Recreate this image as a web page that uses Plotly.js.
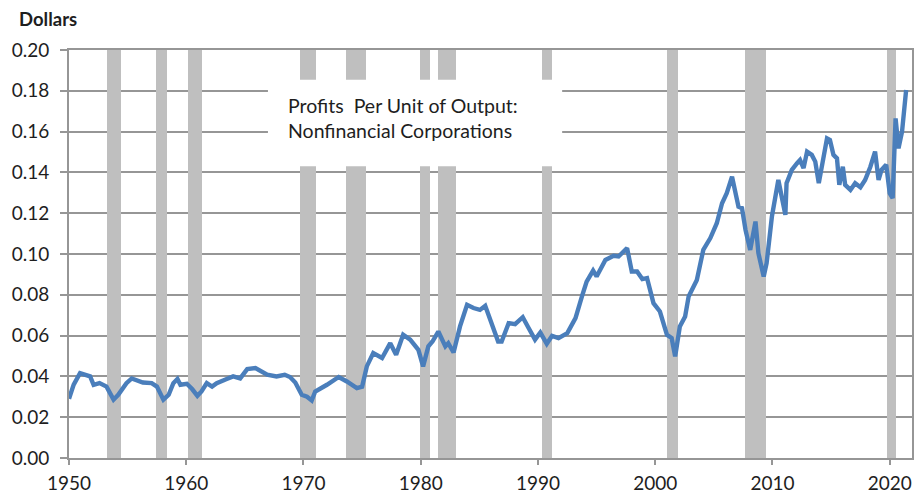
<!DOCTYPE html>
<html>
<head>
<meta charset="utf-8">
<script src="https://cdn.plot.ly/plotly-3.0.1.min.js"></script>
<style>html,body{margin:0;padding:0;background:#fff;}#chart{width:916px;height:495px;}</style>
</head>
<body>
<div id="chart"></div>
<script>
// Profits per unit of output, nonfinancial corporations (dollars)
const years = [
1950.0,1950.4,1950.94,1951.4,1951.8,1952.1,1952.6,1953.2,1953.8,1954.2,1954.9,1955.35,1955.9,1956.3,1957.05,1957.5,
1958.05,1958.5,1958.9,1959.25,1959.5,1960.05,1960.5,1960.95,1961.3,1961.75,1962.2,1962.6,1963.45,1964.0,1964.6,1965.2,
1965.9,1966.9,1967.7,1968.4,1968.85,1969.3,1969.85,1970.3,1970.7,1971.0,1972.0,1973.0,1973.7,1974.55,1975.0,1975.4,
1975.95,1976.7,1977.4,1977.9,1978.5,1979.1,1979.8,1980.2,1980.65,1981.0,1981.5,1982.1,1982.35,1982.8,1983.35,1983.95,
1984.5,1985.05,1985.5,1986.05,1986.6,1986.9,1987.5,1988.05,1988.7,1989.2,1989.75,1990.2,1990.75,1991.2,1991.75,1992.5,
1993.2,1993.75,1994.15,1994.7,1995.0,1995.75,1996.45,1996.87,1997.6,1998.0,1998.45,1998.9,1999.3,1999.85,2000.4,2001.0,
2001.4,2001.7,2002.1,2002.55,2002.85,2003.55,2004.1,2004.7,2005.25,2005.7,2006.1,2006.55,2006.8,2007.1,2007.4,2007.7,
2008.1,2008.55,2008.8,2009.25,2009.5,2009.95,2010.5,2010.8,2011.1,2011.2,2011.65,2012.1,2012.35,2012.65,2012.95,2013.35,
2013.65,2013.95,2014.35,2014.65,2014.9,2015.2,2015.5,2015.7,2016.0,2016.2,2016.65,2017.05,2017.5,2017.9,2018.35,2018.75,
2019.05,2019.3,2019.7,2020.0,2020.25,2020.5,2020.75,2021.05,2021.4
];
const profits = [
0.029,0.036,0.0416,0.041,0.040,0.0359,0.0367,0.035,0.0286,0.031,0.0367,0.039,0.038,0.037,0.0367,0.035,
0.0286,0.031,0.0367,0.0387,0.0359,0.0364,0.0338,0.0305,0.0326,0.0367,0.035,0.0367,0.0387,0.040,0.039,0.0436,
0.0441,0.0408,0.0400,0.0408,0.0397,0.037,0.031,0.030,0.0282,0.0326,0.0359,0.0397,0.0375,0.0343,0.035,0.0449,
0.0514,0.049,0.0563,0.0506,0.0604,0.058,0.053,0.0449,0.0547,0.0571,0.062,0.0547,0.0563,0.0517,0.0645,0.0751,
0.0735,0.0726,0.0746,0.0653,0.0571,0.0571,0.0661,0.0656,0.069,0.0637,0.058,0.0615,0.056,0.0599,0.0588,0.0612,
0.0686,0.0792,0.0865,0.0919,0.089,0.0971,0.0991,0.0988,0.1029,0.0914,0.0914,0.0877,0.0882,0.0759,0.0718,0.0604,
0.0588,0.0498,0.0645,0.0694,0.0792,0.0873,0.102,0.1078,0.1151,0.1249,0.1298,0.1379,0.1314,0.1232,0.1225,0.1118,
0.102,0.1159,0.1004,0.089,0.0955,0.1183,0.1363,0.1281,0.1192,0.1347,0.1412,0.1445,0.1461,0.1421,0.1502,0.1486,
0.1453,0.1347,0.1469,0.1567,0.1559,0.1486,0.1469,0.1339,0.1428,0.1339,0.1314,0.1347,0.1327,0.1363,0.1428,0.1502,
0.1363,0.1412,0.1437,0.1298,0.1274,0.1665,0.1518,0.1600,0.1804
];
// Recession periods (shaded)
const recStart = [1953.2,1957.45,1960.18,1969.7,1973.63,1979.95,1981.46,1990.38,2001.0,2007.62,2019.77];
const recEnd   = [1954.45,1958.36,1961.32,1971.05,1975.3,1980.8,1983.02,1991.18,2001.94,2009.44,2020.56];
const yTicks = [0,0.02,0.04,0.06,0.08,0.10,0.12,0.14,0.16,0.18,0.20];
const yTickText = ["0.00","0.02","0.04","0.06","0.08","0.10","0.12","0.14","0.16","0.18","0.20"];
const xTicks = [1950,1960,1970,1980,1990,2000,2010,2020];
const xTickText = ["1950","1960","1970","1980","1990","2000","2010","2020"];
const yTop = 0.20;

const recMid = recStart.map((s,i)=>(s+recEnd[i])/2);
const recWidth = recStart.map((s,i)=>recEnd[i]-s);

const FONT = 'Lato, "Open Sans", sans-serif';
const TXT = '#1e1e1e';
const GRID = '#969696';
const traces = [
  {type:'bar', x:recMid, y:recStart.map(()=>yTop), width:recWidth,
   marker:{color:'#bfbfbf', line:{width:0}}, hoverinfo:'skip', showlegend:false},
  {type:'scatter', mode:'lines', x:years, y:profits,
   line:{color:'#4a7ebb', width:4.4}, showlegend:false}
];
const layout = {
  width:916, height:495,
  margin:{l:69, r:4, t:50, b:37},
  paper_bgcolor:'#ffffff', plot_bgcolor:'#ffffff',
  bargap:0, barmode:'overlay',
  font:{family:FONT, size:19, color:TXT},
  xaxis:{range:[1950,2021.9], tickvals:xTicks, ticktext:xTickText, showgrid:false,
         showline:true, linecolor:GRID, linewidth:2, mirror:true,
         ticks:'outside', ticklen:5, tickcolor:GRID, tickwidth:2, ticklabelstandoff:2,
         tickfont:{family:FONT, size:19, color:TXT}, zeroline:false, fixedrange:true},
  yaxis:{range:[0,0.2], tickvals:yTicks, ticktext:yTickText, showgrid:true,
         gridcolor:GRID, gridwidth:2,
         showline:true, linecolor:GRID, linewidth:2, mirror:true,
         ticks:'outside', ticklen:7, tickcolor:GRID, tickwidth:2, ticklabelstandoff:7,
         tickfont:{family:FONT, size:19, color:TXT}, zeroline:false, fixedrange:true},
  shapes:[
    {type:'rect', xref:'paper', yref:'paper', x0:0.236, x1:0.585, y0:0.715, y1:0.927,
     fillcolor:'#ffffff', line:{width:0}, layer:'above'}
  ],
  annotations:[
    {xref:'paper', yref:'paper', x:-0.0617, y:1.076, xanchor:'left', yanchor:'middle',
     text:'<b>Dollars</b>', showarrow:false, font:{family:FONT, size:18.5, color:TXT}},
    {xref:'paper', yref:'paper', x:0.258, y:0.865, xanchor:'left', yanchor:'middle',
     text:'Profits  Per Unit of Output:', showarrow:false, font:{family:FONT, size:19.5, color:TXT}},
    {xref:'paper', yref:'paper', x:0.258, y:0.802, xanchor:'left', yanchor:'middle',
     text:'Nonfinancial Corporations', showarrow:false, font:{family:FONT, size:19.5, color:TXT}}
  ]
};
Plotly.newPlot('chart', traces, layout, {displayModeBar:false, staticPlot:true});
</script>
</body>
</html>
